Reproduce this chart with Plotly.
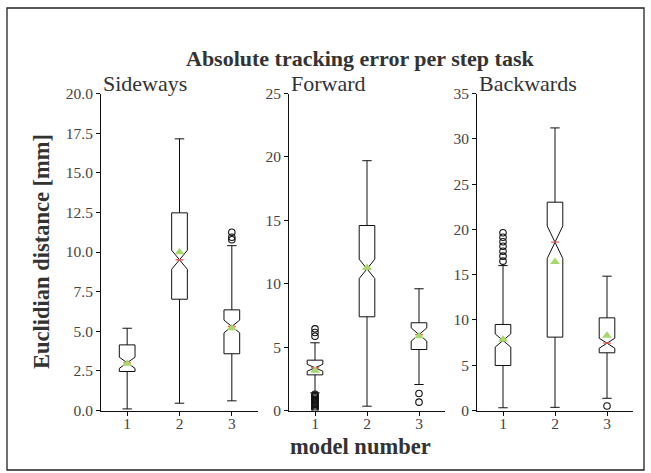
import plotly.graph_objects as go

W, H = 651, 473

models = [1, 2, 3]
panels = ["Sideways", "Forward", "Backwards"]
y_max = [20, 25, 35]
y_dtick = [2.5, 5, 5]
y_fmt = [".1f", "d", "d"]

# Sideways
side_q1 = [2.46, 7.02, 3.58]
side_med = [3.01, 9.51, 5.30]
side_q3 = [4.14, 12.47, 6.35]
side_lo = [0.10, 0.46, 0.61]
side_hi = [5.19, 17.14, 10.40]
side_notch = [0.35, 0.60, 0.40]
side_mean = [2.95, 9.99, 5.20]
side_out_x = [3, 3, 3]
side_out_y = [10.77, 10.93, 11.25]

# Forward
fwd_q1 = [2.81, 7.39, 4.81]
fwd_med = [3.37, 11.17, 5.99]
fwd_q3 = [3.97, 14.59, 6.92]
fwd_lo = [1.39, 0.34, 2.05]
fwd_hi = [5.34, 19.70, 9.60]
fwd_notch = [0.27, 0.76, 0.52]
fwd_mean = [3.15, 11.25, 5.86]
fwd_out_x = [1, 1, 1, 1, 1, 1, 1, 1, 1, 1, 1, 1, 1, 1, 1, 1, 3, 3]
fwd_out_y = [5.86, 6.15, 6.44, 1.28, 1.18, 1.08, 0.98, 0.88, 0.78, 0.68,
             0.58, 0.48, 0.38, 0.28, 0.18, 0.10, 1.34, 0.66]

# Backwards
bwd_q1 = [4.97, 8.10, 6.37]
bwd_med = [7.73, 18.58, 7.43]
bwd_q3 = [9.50, 23.00, 10.23]
bwd_lo = [0.30, 0.35, 1.35]
bwd_hi = [16.00, 31.20, 14.83]
bwd_notch = [0.73, 1.80, 0.55]
bwd_mean = [7.84, 16.42, 8.28]
bwd_out_x = [1, 1, 1, 1, 1, 1, 1, 3]
bwd_out_y = [16.49, 17.04, 17.59, 18.14, 18.63, 19.13, 19.62, 0.50]

data = [
    (side_q1, side_med, side_q3, side_lo, side_hi, side_notch, side_mean, side_out_x, side_out_y),
    (fwd_q1, fwd_med, fwd_q3, fwd_lo, fwd_hi, fwd_notch, fwd_mean, fwd_out_x, fwd_out_y),
    (bwd_q1, bwd_med, bwd_q3, bwd_lo, bwd_hi, bwd_notch, bwd_mean, bwd_out_x, bwd_out_y),
]

FONT = "Liberation Serif"
TXT = "#333333"
TICK = "#444444"
BOX_W = 0.3
MED_COLOR = "#ee5f5b"
MEAN_COLOR = "#a6d96a"

x_px = [(101, 258), (289, 445), (477, 633)]
y_px = (93.5, 410.5)

fig = go.Figure()
layout = dict(
    width=W, height=H,
    margin=dict(l=0, r=0, t=0, b=0),
    paper_bgcolor="white", plot_bgcolor="white",
    showlegend=False,
    font=dict(family=FONT, color=TXT),
)

for i, (q1, med, q3, lo, hi, notch, mean, ox, oy) in enumerate(data):
    xa = "x" if i == 0 else f"x{i+1}"
    ya = "y" if i == 0 else f"y{i+1}"
    fig.add_trace(go.Box(
        x=models, q1=q1, median=med, q3=q3, lowerfence=lo, upperfence=hi,
        notched=True, notchspan=notch, notchwidth=0.5, width=BOX_W,
        whiskerwidth=0.6, boxpoints=False,
        fillcolor="white", line=dict(color="#111111", width=1),
        xaxis=xa, yaxis=ya, hoverinfo="skip",
    ))
    mx, my = [], []
    for m, v in zip(models, med):
        mx += [m - BOX_W / 4, m + BOX_W / 4, None]
        my += [v, v, None]
    fig.add_trace(go.Scatter(x=mx, y=my, mode="lines",
                             line=dict(color=MED_COLOR, width=1.3),
                             xaxis=xa, yaxis=ya, hoverinfo="skip"))
    fig.add_trace(go.Scatter(x=ox, y=oy, mode="markers",
                             marker=dict(symbol="circle-open", size=6.5,
                                         color="#111111", line=dict(width=1.1)),
                             xaxis=xa, yaxis=ya, hoverinfo="skip"))
    fig.add_trace(go.Scatter(x=models, y=mean, mode="markers",
                             marker=dict(symbol="triangle-up", size=8.5,
                                         color=MEAN_COLOR),
                             xaxis=xa, yaxis=ya, hoverinfo="skip"))

    axis_common = dict(
        showline=True, linecolor="#111111", linewidth=1,
        ticks="outside", ticklen=4, tickwidth=1, tickcolor="#111111",
        showgrid=False, zeroline=False, automargin=False,
        tickfont=dict(family=FONT, size=15.5, color=TICK),
    )
    key = "" if i == 0 else str(i + 1)
    layout["xaxis" + key] = dict(
        domain=[x_px[i][0] / W, x_px[i][1] / W], range=[0.5, 3.5],
        tickvals=models, anchor=ya, ticklabelstandoff=-5, **axis_common)
    layout["yaxis" + key] = dict(
        domain=[1 - y_px[1] / H, 1 - y_px[0] / H], range=[0, y_max[i]],
        tick0=0, dtick=y_dtick[i], tickformat=y_fmt[i], anchor=xa,
        **axis_common)

annotations = [
    dict(text="<b>Absolute tracking error per step task</b>", x=360 / W, y=1 - 58 / H,
         xref="paper", yref="paper", xanchor="center", yanchor="middle",
         showarrow=False, font=dict(family=FONT, size=22, color=TXT)),
    dict(text="<b>Euclidian distance [mm]</b>", x=41 / W, y=1 - 252 / H,
         xref="paper", yref="paper", xanchor="center", yanchor="middle",
         textangle=-90, showarrow=False,
         font=dict(family=FONT, size=22.5, color=TXT)),
    dict(text="<b>model number</b>", x=360 / W, y=1 - 446 / H,
         xref="paper", yref="paper", xanchor="center", yanchor="middle",
         showarrow=False, font=dict(family=FONT, size=22.5, color=TXT)),
]
for i, name in enumerate(panels):
    annotations.append(dict(
        text=name, x=(x_px[i][0] + 0) / W, y=1 - 83.5 / H,
        xref="paper", yref="paper", xanchor="left", yanchor="middle",
        showarrow=False, font=dict(family=FONT, size=22, color=TXT)))
layout["annotations"] = annotations
layout["shapes"] = [dict(type="rect", xref="paper", yref="paper",
                         x0=7 / W, x1=644 / W, y0=1 - 470 / H, y1=1 - 8 / H,
                         line=dict(color="#222222", width=1.3))]

fig.update_layout(**layout)
fig.write_html("out.html")
